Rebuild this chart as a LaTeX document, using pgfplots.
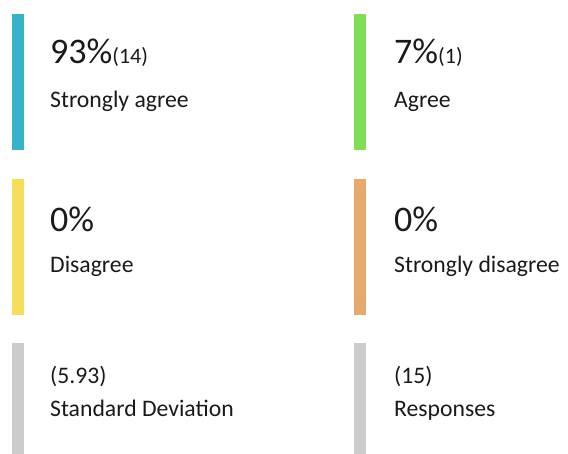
\documentclass[border=0pt]{standalone}
\usepackage{pgfplots}
\pgfplotsset{compat=1.18}
\usepackage{fontspec}
\setmainfont{Carlito}
\definecolor{cTeal}{HTML}{36B2C9}
\definecolor{cGreen}{HTML}{80DE56}
\definecolor{cYellow}{HTML}{F5DE5A}
\definecolor{cOrange}{HTML}{E7AA6E}
\definecolor{cGray}{HTML}{CCCCCC}
\definecolor{cText}{HTML}{1A1A1A}
\newcommand{\bigfs}{\fontsize{36bp}{40bp}\selectfont}
\newcommand{\smfs}{\fontsize{22bp}{26bp}\selectfont}
\newcommand{\labfs}{\fontsize{23.7bp}{28bp}\selectfont}
\begin{document}
\begin{tikzpicture}
\begin{axis}[
  width=568bp, height=454bp, scale only axis,
  xmin=0, xmax=568, ymin=0, ymax=454, y dir=reverse,
  hide axis, clip=false,
]
% invisible frame to fix the picture size
\addplot[draw=none, forget plot] coordinates {(0,0) (568,454)};
% coloured card bars
\addplot[fill=cTeal, draw=none] coordinates {(12,14) (24,14) (24,150) (12,150)} -- cycle;
\addplot[fill=cGreen, draw=none] coordinates {(354,14) (366,14) (366,150) (354,150)} -- cycle;
\addplot[fill=cYellow, draw=none] coordinates {(12,179) (24,179) (24,315) (12,315)} -- cycle;
\addplot[fill=cOrange, draw=none] coordinates {(354,179) (366,179) (366,315) (354,315)} -- cycle;
\addplot[fill=cGray, draw=none] coordinates {(12,343) (24,343) (24,454) (12,454)} -- cycle;
\addplot[fill=cGray, draw=none] coordinates {(354,343) (366,343) (366,454) (354,454)} -- cycle;
% texts
\node[anchor=base west, inner sep=0pt, text=cText] at (axis cs:50,64) {\bigfs 93\%{\smfs(14)}};
\node[anchor=base west, inner sep=0pt, text=cText] at (axis cs:50,107) {\labfs Strongly agree};
\node[anchor=base west, inner sep=0pt, text=cText] at (axis cs:394,64) {\bigfs 7\%{\smfs(1)}};
\node[anchor=base west, inner sep=0pt, text=cText] at (axis cs:394,107) {\labfs Agree};
\node[anchor=base west, inner sep=0pt, text=cText] at (axis cs:50,231) {\bigfs 0\%};
\node[anchor=base west, inner sep=0pt, text=cText] at (axis cs:50,272) {\labfs Disagree};
\node[anchor=base west, inner sep=0pt, text=cText] at (axis cs:394,231) {\bigfs 0\%};
\node[anchor=base west, inner sep=0pt, text=cText] at (axis cs:394,272) {\labfs Strongly disagree};
\node[anchor=base west, inner sep=0pt, text=cText] at (axis cs:50,383) {\labfs (5.93)};
\node[anchor=base west, inner sep=0pt, text=cText] at (axis cs:50,416) {\labfs Standard Deviation};
\node[anchor=base west, inner sep=0pt, text=cText] at (axis cs:394,383) {\labfs (15)};
\node[anchor=base west, inner sep=0pt, text=cText] at (axis cs:394,416) {\labfs Responses};
\end{axis}
\end{tikzpicture}
\end{document}
